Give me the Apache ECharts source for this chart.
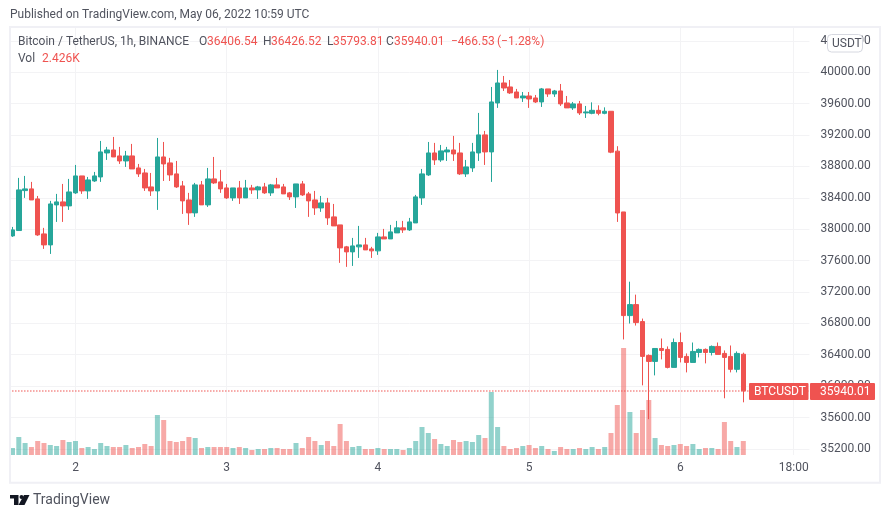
<!DOCTYPE html>
<html>
<head>
<meta charset="utf-8">
<style>
html, body { margin: 0; padding: 0; background: #fff; }
#chart-container { width: 890px; height: 518px; }
</style>
</head>
<body>
<div id="chart-container"></div>
<script src="https://cdn.jsdelivr.net/npm/echarts@6/dist/echarts.min.js"></script>
<script>
var opens = [37915,37983,38492,38514,38386,37940,37800,38310,38348,38297,38463,38679,38488,38615,38666,38972,39010,38934,38870,38934,38781,38717,38539,38488,38921,38845,38705,38552,38373,38208,
    38565,38310,38641,38603,38526,38399,38526,38399,38526,38501,38539,38463,38565,38539,38463,38412,38577,38450,38373,38271,38335,38157,38055,37775,37711,37775,37800,37749,37724,37902,
    37876,37953,38017,37991,38080,38399,38692,38972,38883,38985,39010,38972,38705,38781,38972,39202,38985,39609,39864,39813,39749,39673,39698,39673,39622,39788,39724,39762,39609,39546,
    39597,39482,39477,39515,39477,39503,38995,38220,36899,37039,36823,36391,36315,36480,36468,36239,36556,36379,36302,36429,36468,36429,36506,36417,36379,36214,36406.54];
var closes = [37991,38501,38514,38373,37927,37800,38322,38348,38297,38475,38679,38488,38628,38679,38985,39010,38921,38870,38934,38768,38705,38526,38488,38921,38832,38692,38539,38361,38208,38565,
    38310,38641,38590,38514,38399,38526,38399,38526,38501,38539,38463,38565,38526,38450,38412,38577,38437,38361,38271,38335,38144,38042,37762,37711,37787,37800,37736,37724,37902,37876,
    37966,38017,37991,38093,38412,38705,38972,38883,38998,39010,38959,38705,38794,38985,39202,38985,39622,39864,39800,39737,39673,39698,39660,39622,39788,39724,39762,39597,39546,39597,
    39482,39495,39515,39477,39503,38982,38207,36899,37039,36810,36379,36315,36480,36455,36239,36556,36366,36302,36442,36468,36429,36506,36404,36366,36214,36417,35940.01];
var lows = [37902,37983,38399,38373,37915,37749,37685,38093,38093,38246,38450,38450,38386,38603,38603,38883,38921,38832,38794,38768,38666,38488,38424,38246,38615,38615,38526,38195,38055,38157,
    38310,38284,38577,38463,38386,38361,38322,38399,38450,38386,38450,38424,38526,38450,38373,38271,38424,38157,38182,38221,38055,38042,37571,37520,37532,37634,37736,37634,37673,37876,
    37876,37953,37953,37978,38080,38310,38679,38819,38858,38870,38870,38692,38666,38730,38870,38819,38603,39546,39762,39724,39673,39622,39546,39609,39558,39686,39686,39571,39546,39520,
    39456,39418,39465,39452,39465,38969,38093,36595,36798,36772,36010,35579,36137,36341,36226,36239,36302,36175,36302,36366,36290,36391,36404,35845,36175,36175,35793.81];
var highs = [38029,38654,38679,38603,38424,38017,38361,38450,38577,38641,38819,38679,38666,38730,39125,39049,39176,39049,38998,39087,38832,38768,38717,39163,39112,38909,38870,38615,38463,38590,
    38615,38781,38921,38756,38577,38526,38615,38628,38565,38552,38590,38577,38654,38577,38475,38577,38615,38475,38488,38424,38399,38322,38055,37787,37889,38042,37889,37775,37953,38004,
    38055,38106,38106,38144,38437,38768,39112,39100,39074,39049,39189,39100,38883,39100,39482,39253,39813,40030,39953,39902,39788,39749,39749,39711,39800,39788,39775,39851,39698,39622,
    39635,39571,39617,39579,39553,39503,39058,38220,37331,37166,36861,36404,36480,36607,36506,36607,36683,36417,36556,36480,36480,36518,36556,36455,36518,36442,36426.52];
var volumes = [1213,3119,2079,1386,2426,2079,1733,1560,2600,2253,2426,1213,1386,1040,2079,1560,1386,1386,1733,1213,1386,1906,1560,6932,6066,2426,2253,2426,3119,2946,
    1213,1386,1386,1386,1386,1213,1386,1213,866,1040,1040,1213,1213,1040,1040,2079,1213,3119,2426,1733,2426,1560,5373,2426,1386,1560,1040,1040,1213,1040,
    1040,1040,866,1213,2426,4853,3813,2773,1906,1560,2600,2253,2426,2253,3466,2946,10919,4853,1560,1040,1213,1560,1733,1213,1560,1040,693,1386,1040,1040,
    1213,1040,1386,1040,1386,3813,8665,18544,7452,3813,7799,9532,2946,1733,1560,1733,1906,1560,1906,1040,1213,1213,1040,5719,2426,1386,2426];
var tickHours = [10,34,58,82,106,124];
var tickLabels = ['2','3','4','5','6','18:00'];
var totalHours = 127;
var lastPrice = 35940.01;

var upColor = '#26a69a';
var downColor = '#ef5350';
var gridColor = '#f3f3f5';
var textColor = '#50535e';
var fontName = 'Roboto, sans-serif';

var hours = [];
for (var h = 0; h < totalHours; h++) {
    hours.push(String(h));
}

var candleData = opens.map(function (o, i) {
    return [o, closes[i], lows[i], highs[i]];
});
var volumeData = volumes.map(function (v, i) {
    return {
        value: v,
        itemStyle: { color: closes[i] >= opens[i] ? 'rgba(38,166,154,0.5)' : 'rgba(239,83,80,0.5)' }
    };
});

function label(text, x, y, color, size) {
    return {
        type: 'text',
        x: x,
        y: y,
        z: 20,
        style: {
            text: text,
            fill: color || textColor,
            font: (size || 12) + 'px ' + fontName,
            textVerticalAlign: 'middle'
        }
    };
}

var domChart = document.getElementById('chart-container');
var ioChart = echarts.init(domChart);
var chartOption = {
    animation: false,
    backgroundColor: '#fff',
    grid: [
        { left: 9.35, right: 80.55, top: 40.9, bottom: 69.1 },
        { left: 9.35, right: 80.55, top: 28, bottom: 63 }
    ],
    xAxis: [
        { type: 'category', gridIndex: 0, data: hours, show: false },
        {
            type: 'category',
            gridIndex: 1,
            data: hours,
            axisLine: { show: false },
            axisTick: { show: false },
            axisLabel: {
                color: textColor,
                fontFamily: fontName,
                fontSize: 12,
                margin: 7,
                interval: function (index) {
                    return tickHours.indexOf(index) >= 0;
                },
                formatter: function (value, index) {
                    return tickLabels[tickHours.indexOf(index)];
                }
            },
            splitLine: {
                show: true,
                alignWithLabel: true,
                interval: function (index) {
                    return tickHours.indexOf(index) >= 0;
                },
                lineStyle: { color: gridColor }
            }
        }
    ],
    yAxis: [
        {
            type: 'value',
            gridIndex: 0,
            position: 'right',
            min: 35200,
            max: 40400,
            interval: 400,
            axisLine: { show: false },
            axisTick: { show: false },
            axisLabel: {
                color: textColor,
                fontFamily: fontName,
                fontSize: 12,
                margin: 11,
                formatter: function (value) {
                    return value.toFixed(2);
                }
            },
            splitLine: { lineStyle: { color: gridColor } }
        },
        {
            type: 'value',
            gridIndex: 1,
            min: 0,
            max: 74000,
            show: false,
            splitLine: { show: false }
        }
    ],
    series: [
        {
            name: 'Vol',
            type: 'bar',
            xAxisIndex: 1,
            yAxisIndex: 1,
            barWidth: 5,
            data: volumeData,
            z: 1
        },
        {
            name: 'BTCUSDT',
            type: 'candlestick',
            xAxisIndex: 0,
            yAxisIndex: 0,
            barWidth: 5,
            clip: false,
            z: 2,
            itemStyle: {
                color: upColor,
                color0: downColor,
                borderColor: upColor,
                borderColor0: downColor,
                borderWidth: 1
            },
            data: candleData,
            markLine: {
                silent: true,
                symbol: 'none',
                animation: false,
                label: { show: false },
                lineStyle: { type: [1, 2], color: downColor, width: 1.5, opacity: 1 },
                data: [{ yAxis: lastPrice }]
            }
        }
    ],
    graphic: [
        {
            type: 'rect',
            z: 19,
            shape: { x: 10, y: 27, width: 870, height: 455.7 },
            style: { fill: 'none', stroke: '#f0f0f5', lineWidth: 2 }
        },
        label('Published on TradingView.com, May 06, 2022 10:59 UTC', 10, 15),
        label('Bitcoin / TetherUS, 1h, BINANCE', 18, 42),
        label('O', 199, 42),
        label('36406.54', 207, 42, downColor),
        label('H', 263, 42),
        label('36426.52', 271, 42, downColor),
        label('L', 327, 42),
        label('35793.81', 333, 42, downColor),
        label('C', 386, 42),
        label('35940.01', 394, 42, downColor),
        label('\u2212466.53', 451, 42, downColor),
        label('(\u22121.28%)', 497, 42, downColor),
        label('Vol', 18, 59),
        label('2.426K', 42, 59, downColor),
        {
            type: 'rect',
            z: 19,
            shape: { x: 827.5, y: 34.5, width: 35, height: 17.5, r: 4 },
            style: { fill: '#fff', stroke: '#d6d8e0', lineWidth: 1 }
        },
        label('USDT', 832, 43.5, textColor, 12),
        {
            type: 'rect',
            z: 19,
            shape: { x: 749, y: 383, width: 59.5, height: 17, r: 1 },
            style: { fill: downColor }
        },
        {
            type: 'rect',
            z: 19,
            shape: { x: 810, y: 383, width: 65, height: 17, r: 1 },
            style: { fill: downColor }
        },
        label('BTCUSDT', 754, 391.7, '#fff', 12),
        label('35940.01', 820, 391.7, '#fff', 12),
        // TradingView mark
        {
            type: 'polygon',
            z: 20,
            shape: { points: [[10, 495], [18.5, 495], [18.5, 505], [14, 505], [14, 498.5], [10, 498.5]] },
            style: { fill: '#131722' }
        },
        {
            type: 'circle',
            z: 20,
            shape: { cx: 21.5, cy: 497, r: 2 },
            style: { fill: '#131722' }
        },
        {
            type: 'polygon',
            z: 20,
            shape: { points: [[24, 495], [29.5, 495], [24.5, 505], [18.5, 505]] },
            style: { fill: '#131722' }
        },
        label('TradingView', 33, 500.5, textColor, 14)
    ]
};
ioChart.setOption(chartOption);
</script>
</body>
</html>
